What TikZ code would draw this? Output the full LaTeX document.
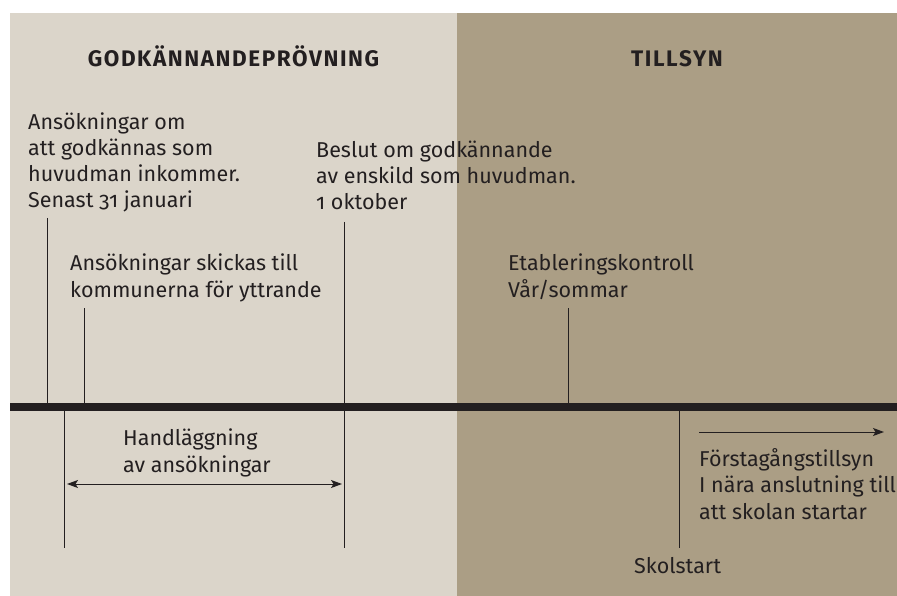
\documentclass[tikz,border=0pt]{standalone}
\usepackage{fontspec}
\setmainfont{Fira Sans}[Numbers=OldStyle]
\newfontfamily\headfont{Fira Sans}[LetterSpace=7]
\usetikzlibrary{arrows.meta}
\definecolor{lightpanel}{HTML}{DBD5CA}
\definecolor{darkpanel}{HTML}{AB9E85}
\definecolor{ink}{HTML}{231F20}
\begin{document}
\begin{tikzpicture}[x=1pt,y=-1pt,
  lbl/.style={anchor=base west, align=left, inner sep=0pt, text=ink,
    font=\fontsize{21.5}{26.3}\selectfont},
  head/.style={anchor=base, inner sep=0pt, text=ink,
    font=\headfont\fontsize{22.5}{26}\selectfont\bfseries},
  tick/.style={draw=ink, line width=1pt},
  span/.style={draw=ink, line width=1pt},
  tipA/.style={-{Stealth[length=11pt,width=8pt,inset=2.5pt]}},
  tipB/.style={{Stealth[length=11pt,width=8pt,inset=2.5pt]}-{Stealth[length=11pt,width=8pt,inset=2.5pt]}}]
\useasboundingbox (0,0) rectangle (897,596);
\fill[lightpanel] (10,13) rectangle (457,596);
\fill[darkpanel] (457,13) rectangle (897,596);

\node[head] (h1) at (233.5,67) {GODKÄNNANDEPRÖVNING};
\node[head] (h2) at (677,67) {TILLSYN};

% base anchor of a multi-line node = baseline of its last line
\node[lbl] (a1) at (28,208) {Ansökningar om\\att godkännas som\\huvudman inkommer.\\Senast 31 januari};
\node[lbl] (a2) at (70,297) {Ansökningar skickas till\\kommunerna för yttrande};
\node[lbl] (a3) at (316,210) {Beslut om godkännande\\av enskild som huvudman.\\1 oktober};
\node[lbl] (a4) at (508,297) {Etableringskontroll\\Vår/sommar};
\node[lbl] (a5) at (123,472) {Handläggning\\av ansökningar};
\node[lbl] (a6) at (699,519) {Förstagångstillsyn\\I nära anslutning till\\att skolan startar};
\node[lbl] (a7) at (634,573) {Skolstart};

\coordinate (t1a) at (47,218);  \coordinate (t1b) at (47,405);
\coordinate (t2a) at (84,308);  \coordinate (t2b) at (84,405);
\coordinate (t3a) at (344,222); \coordinate (t3b) at (344,548);
\coordinate (t4a) at (568,308); \coordinate (t4b) at (568,405);
\coordinate (b1a) at (64,409);  \coordinate (b1b) at (64,548);
\coordinate (b2a) at (679,409); \coordinate (b2b) at (679,548);
\coordinate (d1) at (67,484);   \coordinate (d2) at (342,484);
\coordinate (f1) at (699,432);  \coordinate (f2) at (884,432);
\coordinate (barL) at (10,407); \coordinate (barR) at (897,407);

\draw[tick] (t1a) -- (t1b);
\draw[tick] (t2a) -- (t2b);
\draw[tick] (t3a) -- (t3b);
\draw[tick] (t4a) -- (t4b);
\draw[tick] (b1a) -- (b1b);
\draw[tick] (b2a) -- (b2b);
\draw[span,tipB] (d1) -- (d2);
\draw[span,tipA] (f1) -- (f2);
\draw[ink, line width=8pt] (barL) -- (barR);
\end{tikzpicture}
\end{document}
